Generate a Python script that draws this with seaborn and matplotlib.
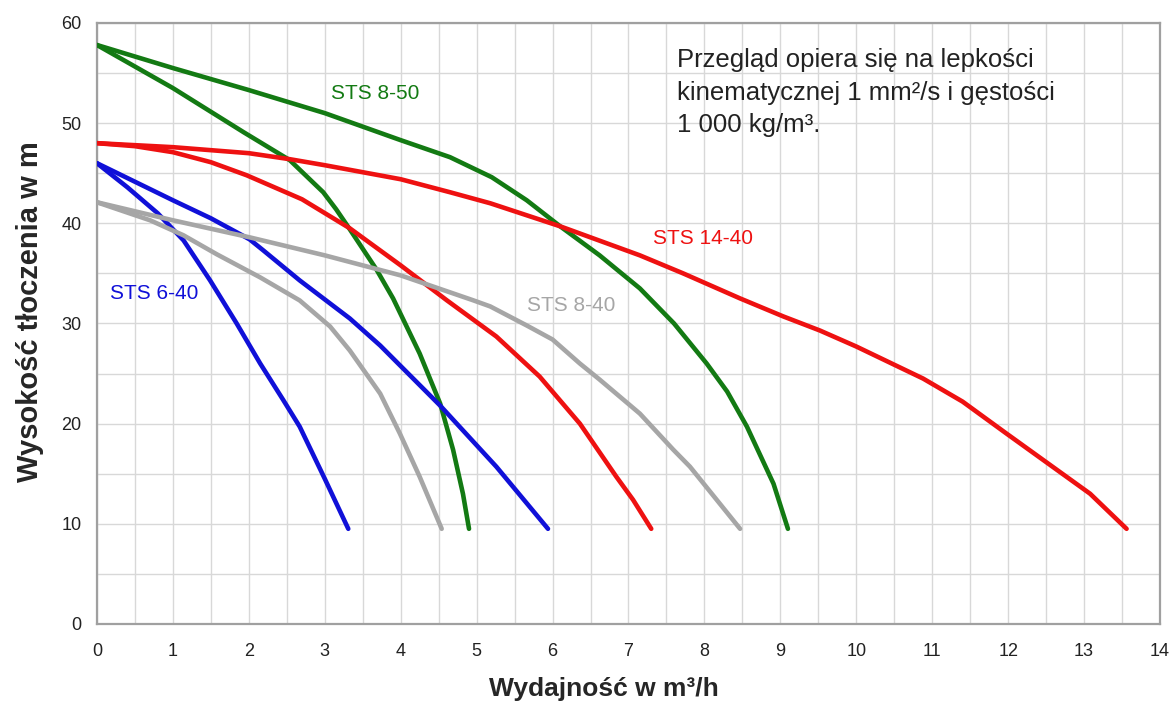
# ==========================================
# STS pump curves (head vs. flow)
# ==========================================

import numpy as np
import pandas as pd
import matplotlib
matplotlib.use("Agg")
import matplotlib.pyplot as plt
import seaborn as sns

# ------------------------------------------
# Data (Q in m3/h, H in m)
# ------------------------------------------

# STS 8-50 (green)
q_850_big = [0, 1, 2, 3, 4, 4.65, 5.2, 5.66, 6.1, 6.62, 7.15, 7.6, 8.03, 8.3, 8.56, 8.91, 9.1]
h_850_big = [57.8, 55.5, 53.3, 51.0, 48.3, 46.6, 44.6, 42.3, 39.7, 36.8, 33.5, 30.0, 26.0, 23.2, 19.7, 14.0, 9.5]
q_850_small = [0, 1, 1.93, 2.54, 2.98, 3.15, 3.33, 3.68, 3.9, 4.25, 4.52, 4.69, 4.82, 4.9]
h_850_small = [57.8, 53.5, 49.1, 46.3, 43.1, 41.4, 39.4, 35.4, 32.5, 27.0, 22.0, 17.4, 13.0, 9.5]

# STS 14-40 (red)
q_1440_big = [0, 1, 2, 2.54, 3, 4, 4.65, 5.18, 6.1, 7.15, 7.72, 8.47, 9.04, 9.52,
              10.0, 10.88, 11.4, 11.98, 12.42, 13.08, 13.56]
h_1440_big = [48.0, 47.6, 47.0, 46.4, 45.8, 44.4, 43.1, 42.0, 39.7, 36.8, 35.0, 32.5, 30.7, 29.3,
              27.7, 24.5, 22.2, 19.0, 16.6, 13.0, 9.5]
q_1440_small = [0, 0.5, 1, 1.5, 1.97, 2.7, 3.33, 4.0, 4.61, 5.26, 5.83, 6.36, 6.84, 7.06, 7.3]
h_1440_small = [48.0, 47.7, 47.1, 46.1, 44.8, 42.4, 39.5, 35.8, 32.3, 28.7, 24.7, 20.0, 14.7, 12.4, 9.5]

# STS 6-40 (blue)
q_640_big = [0, 1, 1.5, 2.01, 2.19, 2.67, 3.33, 3.73, 4.52, 5.26, 5.94]
h_640_big = [46.0, 42.3, 40.5, 38.4, 37.3, 34.3, 30.5, 27.8, 21.8, 15.7, 9.5]
q_640_small = [0, 0.4, 0.8, 1.14, 1.49, 1.84, 2.15, 2.45, 2.67, 3.0, 3.31]
h_640_small = [46.0, 43.6, 41.0, 38.3, 34.3, 30.0, 26.0, 22.4, 19.7, 14.5, 9.5]

# STS 8-40 (grey)
q_840_big = [0, 1, 2.01, 3.0, 4.0, 4.96, 5.18, 5.66, 6.0, 6.36, 6.62, 7.15, 7.59, 7.81, 8.47]
h_840_big = [42.1, 40.3, 38.6, 36.8, 34.8, 32.3, 31.7, 29.8, 28.4, 26.0, 24.4, 21.0, 17.4, 15.7, 9.5]
q_840_small = [0, 0.7, 1.14, 1.58, 2.15, 2.67, 3.07, 3.33, 3.73, 3.99, 4.25, 4.54]
h_840_small = [42.1, 40.3, 38.8, 36.9, 34.6, 32.3, 29.7, 27.3, 23.0, 19.0, 14.7, 9.5]

curves = {
    "STS 8-50 a": (q_850_big, h_850_big),
    "STS 8-50 b": (q_850_small, h_850_small),
    "STS 14-40 a": (q_1440_big, h_1440_big),
    "STS 14-40 b": (q_1440_small, h_1440_small),
    "STS 6-40 a": (q_640_big, h_640_big),
    "STS 6-40 b": (q_640_small, h_640_small),
    "STS 8-40 a": (q_840_big, h_840_big),
    "STS 8-40 b": (q_840_small, h_840_small),
}

GREEN = "#137a13"
RED = "#ee1111"
BLUE = "#1010d8"
GREY = "#a6a6a6"

palette = {
    "STS 8-50 a": GREEN, "STS 8-50 b": GREEN,
    "STS 14-40 a": RED, "STS 14-40 b": RED,
    "STS 6-40 a": BLUE, "STS 6-40 b": BLUE,
    "STS 8-40 a": GREY, "STS 8-40 b": GREY,
}

df = pd.concat(
    [pd.DataFrame({"Q": q, "H": h, "curve": name}) for name, (q, h) in curves.items()],
    ignore_index=True
)

# ------------------------------------------
# Plot
# ------------------------------------------

sns.set_style("white")
plt.rcParams["font.family"] = ["Liberation Sans", "DejaVu Sans"]

fig, ax = plt.subplots(figsize=(11.71, 7.11), dpi=100)
fig.subplots_adjust(left=0.0828, right=0.9906, bottom=0.1224, top=0.9677)

sns.lineplot(
    data=df,
    x="Q",
    y="H",
    hue="curve",
    units="curve",
    estimator=None,
    sort=False,
    palette=palette,
    linewidth=3.3,
    legend=False,
    ax=ax,
    solid_capstyle="round",
    solid_joinstyle="round",
    zorder=3
)

# labels next to curves
ax.text(3.67, 53.0, "STS 8-50", color=GREEN, fontsize=15, ha="center", va="center")
ax.text(7.98, 38.5, "STS 14-40", color=RED, fontsize=15, ha="center", va="center")
ax.text(6.25, 31.8, "STS 8-40", color=GREY, fontsize=15, ha="center", va="center")
ax.text(0.76, 33.0, "STS 6-40", color=BLUE, fontsize=15, ha="center", va="center")

ax.text(
    7.64, 57.5,
    "Przegląd opiera się na lepkości\nkinematycznej 1 mm²/s i gęstości\n1 000 kg/m³.",
    color="#222222", fontsize=18.5, ha="left", va="top", linespacing=1.45
)

# axes, ticks and grid
ax.set_xlim(0, 14)
ax.set_ylim(0, 60)
ax.set_xticks(np.arange(0, 15, 1))
ax.set_xticks(np.arange(0, 14.01, 0.5), minor=True)
ax.set_yticks(np.arange(0, 61, 10))
ax.set_yticks(np.arange(0, 60.01, 5), minor=True)

ax.grid(which="both", color="#d8d8d8", linewidth=1.0)
ax.set_axisbelow(True)

ax.tick_params(which="major", length=4, width=1, color="#999999",
               labelsize=13, labelcolor="#222222")
ax.tick_params(axis="x", which="major", pad=10)
ax.tick_params(axis="y", which="major", pad=7)
ax.tick_params(which="minor", length=0)

for side in ax.spines.values():
    side.set_color("#a0a0a0")
    side.set_linewidth(1.6)

ax.set_xlabel("Wydajność w m³/h", fontsize=19, fontweight="bold")
ax.set_ylabel("Wysokość tłoczenia w m", fontsize=21, fontweight="bold")
ax.xaxis.set_label_coords(0.477, -0.088)
ax.yaxis.set_label_coords(-0.05, 0.52)

plt.savefig("out.png", dpi=100)
